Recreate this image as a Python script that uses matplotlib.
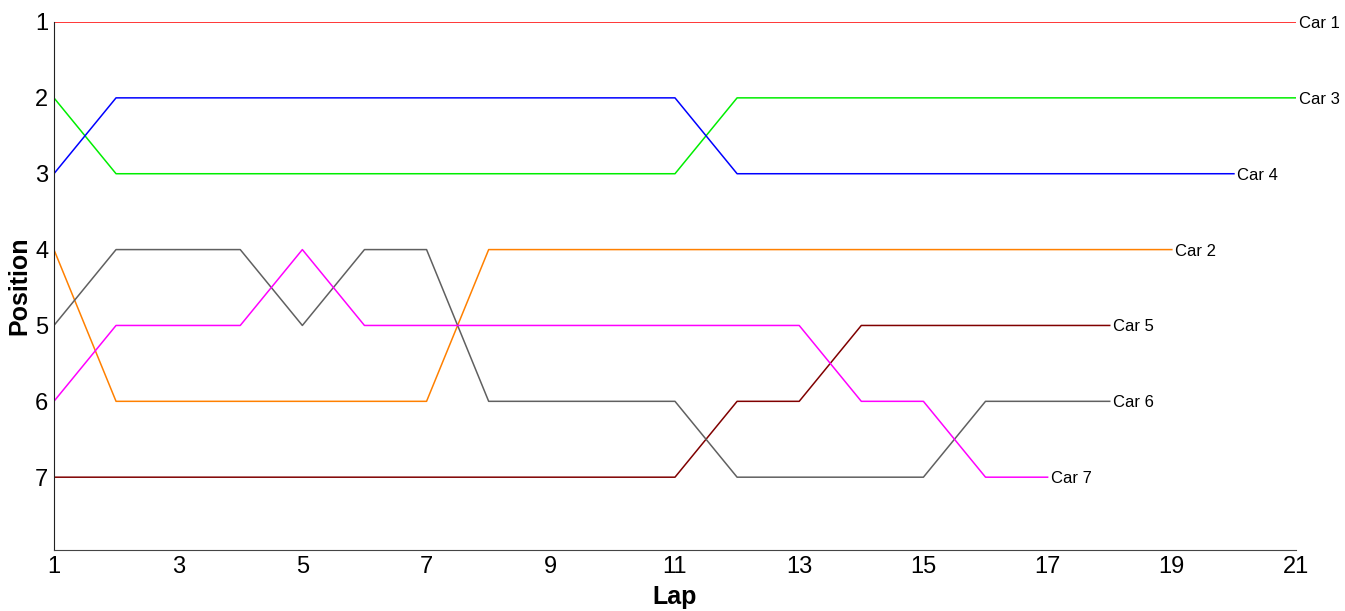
import matplotlib.pyplot as plt

plt.rcParams['font.family'] = ['Liberation Sans', 'DejaVu Sans']

# positions per lap for each car
car1 = [1] * 21
car3 = [2, 3, 3, 3, 3, 3, 3, 3, 3, 3, 3, 2, 2, 2, 2, 2, 2, 2, 2, 2, 2]
car4 = [3, 2, 2, 2, 2, 2, 2, 2, 2, 2, 2, 3, 3, 3, 3, 3, 3, 3, 3, 3]
car2 = [4, 6, 6, 6, 6, 6, 6, 4, 4, 4, 4, 4, 4, 4, 4, 4, 4, 4, 4]
car5 = [7, 7, 7, 7, 7, 7, 7, 7, 7, 7, 7, 6, 6, 5, 5, 5, 5, 5]
car6 = [5, 4, 4, 4, 5, 4, 4, 6, 6, 6, 6, 7, 7, 7, 7, 6, 6, 6]
car7 = [6, 5, 5, 5, 4, 5, 5, 5, 5, 5, 5, 5, 5, 6, 6, 7, 7]

cars = ['Car 1', 'Car 3', 'Car 4', 'Car 2', 'Car 5', 'Car 6', 'Car 7']
series = [car1, car3, car4, car2, car5, car6, car7]
colors = ['#ff0000', '#00ee00', '#0000ff', '#ff8000', '#800000', '#606060', '#ff00ff']

fig = plt.figure(figsize=(13.45, 6.11), dpi=100)
ax = fig.add_axes([0.0401, 0.0998, 0.9235, 0.8642])

for name, pos, col in zip(cars, series, colors):
    laps = list(range(1, len(pos) + 1))
    ax.plot(laps, pos, color=col, linewidth=1.1)
    ax.text(laps[-1] + 0.05, pos[-1], name, fontsize=12, va='center_baseline', ha='left')

ax.set_xlim(1, 21)
ax.set_ylim(7.96, 1)
ax.set_xticks(range(1, 22, 2))
ax.set_yticks(range(1, 8))
ax.tick_params(axis='both', length=0, labelsize=17)
ax.tick_params(axis='x', pad=4)
ax.tick_params(axis='y', pad=4)

ax.set_xlabel('Lap', fontsize=18, fontweight='bold', labelpad=5)
ax.set_ylabel('Position', fontsize=18, fontweight='bold', labelpad=3)

ax.spines['top'].set_visible(False)
ax.spines['right'].set_visible(False)
ax.spines['left'].set_color('#222222')
ax.spines['bottom'].set_color('#444444')

fig.savefig('out.png', dpi=100)
